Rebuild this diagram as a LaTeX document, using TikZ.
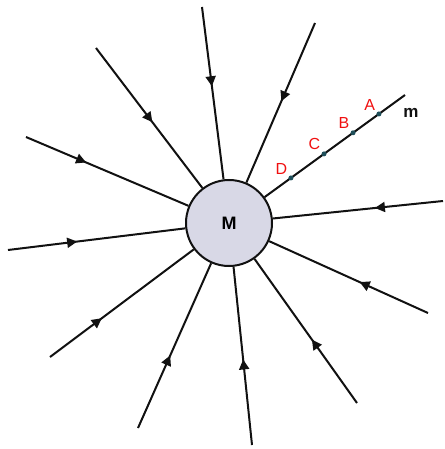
\documentclass[tikz,border=0pt]{standalone}
\usepackage{fontspec}
\setmainfont{Liberation Sans}
\usepackage{tikz}
\usetikzlibrary{arrows.meta, calc, positioning, decorations.markings}
\usepackage{xcolor}
\definecolor{mDisc}{HTML}{D8D8E6}
\definecolor{mRed}{HTML}{F01010}
\definecolor{mDot}{HTML}{1F4F5A}
\definecolor{mInk}{HTML}{111111}
\begin{document}
\begin{tikzpicture}[x=1pt, y=-1pt,
  mass/.style={circle, draw=mInk, line width=2pt, fill=mDisc, minimum size=86pt, inner sep=0pt,
               font=\fontsize{18}{18}\selectfont\bfseries},
  fieldline/.style={line width=2pt, mInk, postaction={decorate},
                    decoration={markings, mark=at position #1 with {\arrow{Triangle[length=10pt, width=10pt]}}}},
  probeline/.style={line width=2pt, mInk},
  probept/.style={circle, fill=mDot, inner sep=0pt, minimum size=5pt},
  ptlab/.style={text=mRed, inner sep=1pt, font=\fontsize{16}{16}\selectfont},
  mlab/.style={text=mInk, inner sep=0pt, font=\fontsize{17}{17}\selectfont\bfseries}]
  \useasboundingbox (0,0) rectangle (444,449);
  \node[mass] (M) at (229,223) {M};
  \foreach \n/\x/\y/\p in {1/202/7/0.46, 2/96/48/0.53, 3/26/137/0.37, 4/8/250/0.39,
                           5/50/357/0.36, 6/138/428/0.44, 7/443/201/0.40, 8/428/313/0.43,
                           9/357/403/0.44, 10/252/445/0.48, 11/315/23/0.49} {
    \coordinate (o\n) at (\x,\y);
    \draw[fieldline=\p] (o\n) -- (M);
  }
  \coordinate (mEnd) at (405,95);
  \draw[probeline] (mEnd) -- (M);
  \foreach \n/\p in {A/0.148, B/0.295, C/0.46, D/0.648}
    \node[probept, label={[ptlab, label distance=1pt]135:\n}] (\n) at ($(mEnd)!\p!(M.center)$) {};
  \node[mlab] (mLab) at (411,113) {m};
\end{tikzpicture}
\end{document}
